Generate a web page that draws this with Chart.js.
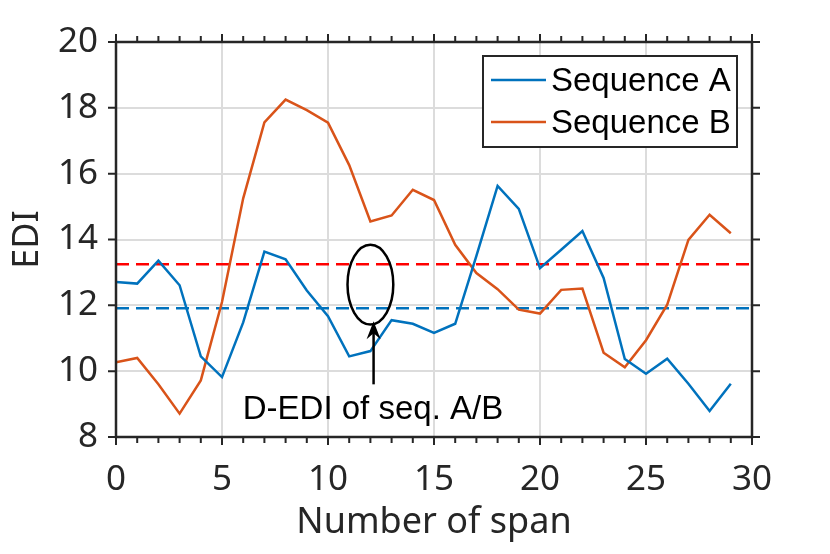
<!DOCTYPE html>
<html>
<head>
<meta charset="utf-8">
<script src="https://cdn.jsdelivr.net/npm/chart.js@4.4.1/dist/chart.umd.min.js"></script>
<style>
  html, body { margin: 0; padding: 0; background: #fff; }
</style>
</head>
<body>
<canvas id="ediChart" width="830" height="554"></canvas>
<script>
// span index (x) and EDI per span for both sequences
const spans = [0, 1, 2, 3, 4, 5, 6, 7, 8, 9, 10, 11, 12, 13, 14, 15, 16, 17, 18, 19, 20, 21, 22, 23, 24, 25, 26, 27, 28, 29];
const seqA = [12.71, 12.66, 13.36, 12.61, 10.45, 9.82, 11.48, 13.63, 13.40, 12.45, 11.67, 10.45, 10.61, 11.55, 11.44, 11.16, 11.44, 13.50, 15.63, 14.93, 13.13, 13.69, 14.26, 12.83, 10.37, 9.92, 10.38, 9.62, 8.79, 9.62];
const seqB = [10.27, 10.40, 9.60, 8.71, 9.72, 12.10, 15.25, 17.56, 18.25, 17.93, 17.55, 16.26, 14.55, 14.73, 15.51, 15.20, 13.84, 12.98, 12.49, 11.87, 11.75, 12.47, 12.51, 10.56, 10.12, 10.94, 12.02, 13.99, 14.75, 14.19];
const seriesNames = ['Sequence A', 'Sequence B'];

// D-EDI levels (dashed lines)
const dediA = 11.91;
const dediB = 13.25;
const dediSpan = [0, 30];

// annotation (data units)
const noteText = 'D-EDI of seq. A/B';
const ellipseAt = { x: 12, y: 12.63, rx: 1.08, ry: 1.21 };
const arrowFrom = { x: 12.15, y: 9.6 };
const arrowTo = { x: 12.15, y: 11.52 };
const noteAt = { x: 12.12, y: 8.54 };

const xMinorTicks = [0, 1, 2, 3, 4, 5, 6, 7, 8, 9, 10, 11, 12, 13, 14, 15, 16, 17, 18, 19, 20, 21, 22, 23, 24, 25, 26, 27, 28, 29, 30];

const BLUE = '#0072BD';
const ORANGE = '#D95319';
const AXIS = '#262626';
const GRID = '#dcdcdc';
const TICK_FONT = '"Noto Sans", "Open Sans", sans-serif';
const NOTE_FONT = '"Liberation Sans", Arial, sans-serif';

const toPoints = (xs, ys) => xs.map((x, i) => ({ x: x, y: ys[i] }));

// MATLAB-like box with outward ticks
const axesBox = {
    id: 'axesBox',
    afterDatasetsDraw(chart) {
        const { ctx, chartArea: a, scales } = chart;
        ctx.save();
        ctx.strokeStyle = AXIS;
        ctx.lineWidth = 2.5;
        ctx.strokeRect(a.left, a.top, a.right - a.left, a.bottom - a.top);
        ctx.lineWidth = 2;
        ctx.beginPath();
        xMinorTicks.forEach(v => {
            const px = scales.x.getPixelForValue(v);
            const len = v % 5 === 0 ? 8 : 6;
            ctx.moveTo(px, a.bottom); ctx.lineTo(px, a.bottom + len);
            ctx.moveTo(px, a.top); ctx.lineTo(px, a.top - len);
        });
        scales.y.ticks.forEach(t => {
            const py = scales.y.getPixelForValue(t.value);
            ctx.moveTo(a.left, py); ctx.lineTo(a.left - 8, py);
            ctx.moveTo(a.right, py); ctx.lineTo(a.right + 8, py);
        });
        ctx.stroke();
        ctx.restore();
    }
};

// ellipse, arrow and label
const annotation = {
    id: 'annotation',
    afterDatasetsDraw(chart) {
        const { ctx, scales: { x, y } } = chart;
        ctx.save();
        ctx.strokeStyle = '#000';
        ctx.fillStyle = '#000';
        ctx.lineWidth = 2.5;

        const cx = x.getPixelForValue(ellipseAt.x);
        const cy = y.getPixelForValue(ellipseAt.y);
        const rx = x.getPixelForValue(ellipseAt.x + ellipseAt.rx) - cx;
        const ry = cy - y.getPixelForValue(ellipseAt.y + ellipseAt.ry);
        ctx.beginPath();
        ctx.ellipse(cx, cy, rx, ry, 0, 0, Math.PI * 2);
        ctx.stroke();

        const ax = x.getPixelForValue(arrowFrom.x);
        const ay0 = y.getPixelForValue(arrowFrom.y);
        const ay1 = y.getPixelForValue(arrowTo.y);
        ctx.beginPath();
        ctx.moveTo(ax, ay0);
        ctx.lineTo(ax, ay1 + 4);
        ctx.stroke();
        ctx.beginPath();
        ctx.moveTo(ax, ay1);
        ctx.lineTo(ax - 7, ay1 + 18);
        ctx.lineTo(ax, ay1 + 12);
        ctx.lineTo(ax + 7, ay1 + 18);
        ctx.closePath();
        ctx.fill();

        ctx.font = '33px ' + NOTE_FONT;
        ctx.textAlign = 'center';
        ctx.textBaseline = 'alphabetic';
        ctx.fillText(noteText, x.getPixelForValue(noteAt.x), y.getPixelForValue(noteAt.y));
        ctx.restore();
    }
};

// boxed legend in the upper right corner
const boxLegend = {
    id: 'boxLegend',
    afterDraw(chart) {
        const { ctx, chartArea: a } = chart;
        const right = a.right - 15, top = a.top + 14;
        const w = 254, h = 91;
        const left = right - w;
        ctx.save();
        ctx.fillStyle = '#fff';
        ctx.fillRect(left, top, w, h);
        ctx.strokeStyle = AXIS;
        ctx.lineWidth = 2;
        ctx.strokeRect(left, top, w, h);
        ctx.font = '33px ' + NOTE_FONT;
        ctx.textBaseline = 'middle';
        ctx.textAlign = 'left';
        [BLUE, ORANGE].forEach((c, i) => {
            const yy = top + 24 + i * 42;
            ctx.strokeStyle = c;
            ctx.lineWidth = 2.5;
            ctx.beginPath();
            ctx.moveTo(left + 8, yy);
            ctx.lineTo(left + 63, yy);
            ctx.stroke();
            ctx.fillStyle = '#000';
            ctx.fillText(seriesNames[i], left + 68, yy + 2);
        });
        ctx.restore();
    }
};

const ctx = document.getElementById('ediChart').getContext('2d');
new Chart(ctx, {
    type: 'line',
    data: {
        datasets: [
            {
                label: seriesNames[0],
                data: toPoints(spans, seqA),
                borderColor: BLUE,
                borderWidth: 2.5,
                pointRadius: 0,
                tension: 0,
                fill: false
            },
            {
                label: seriesNames[1],
                data: toPoints(spans, seqB),
                borderColor: ORANGE,
                borderWidth: 2.5,
                pointRadius: 0,
                tension: 0,
                fill: false
            },
            {
                label: 'D-EDI B',
                data: toPoints(dediSpan, [dediB, dediB]),
                borderColor: '#FF0000',
                borderWidth: 2.5,
                borderDash: [13, 7],
                pointRadius: 0,
                fill: false
            },
            {
                label: 'D-EDI A',
                data: toPoints(dediSpan, [dediA, dediA]),
                borderColor: BLUE,
                borderWidth: 2.5,
                borderDash: [13, 7],
                pointRadius: 0,
                fill: false
            }
        ]
    },
    options: {
        responsive: false,
        animation: false,
        layout: {
            padding: { top: 42, right: 78, left: 0, bottom: 0 }
        },
        plugins: {
            legend: { display: false },
            tooltip: { enabled: false }
        },
        scales: {
            x: {
                type: 'linear',
                min: 0,
                max: 30,
                ticks: {
                    stepSize: 5,
                    padding: 22,
                    color: AXIS,
                    font: { family: TICK_FONT, size: 35 },
                    maxRotation: 0
                },
                grid: { color: GRID, lineWidth: 2, drawTicks: false },
                border: { display: false },
                title: {
                    display: true,
                    text: 'Number of span',
                    color: AXIS,
                    font: { family: TICK_FONT, size: 36 },
                    padding: { top: 0, bottom: 10 }
                },
                afterFit: (scale) => { scale.height = 117; }
            },
            y: {
                min: 8,
                max: 20,
                ticks: {
                    stepSize: 2,
                    padding: 18,
                    color: AXIS,
                    font: { family: TICK_FONT, size: 35 }
                },
                grid: { color: GRID, lineWidth: 2, drawTicks: false },
                border: { display: false },
                title: {
                    display: true,
                    text: 'EDI',
                    color: AXIS,
                    font: { family: TICK_FONT, size: 36 },
                    padding: { top: 6, bottom: 0 }
                },
                afterFit: (scale) => { scale.width = 116; }
            }
        }
    },
    plugins: [axesBox, annotation, boxLegend]
});
</script>
</body>
</html>
